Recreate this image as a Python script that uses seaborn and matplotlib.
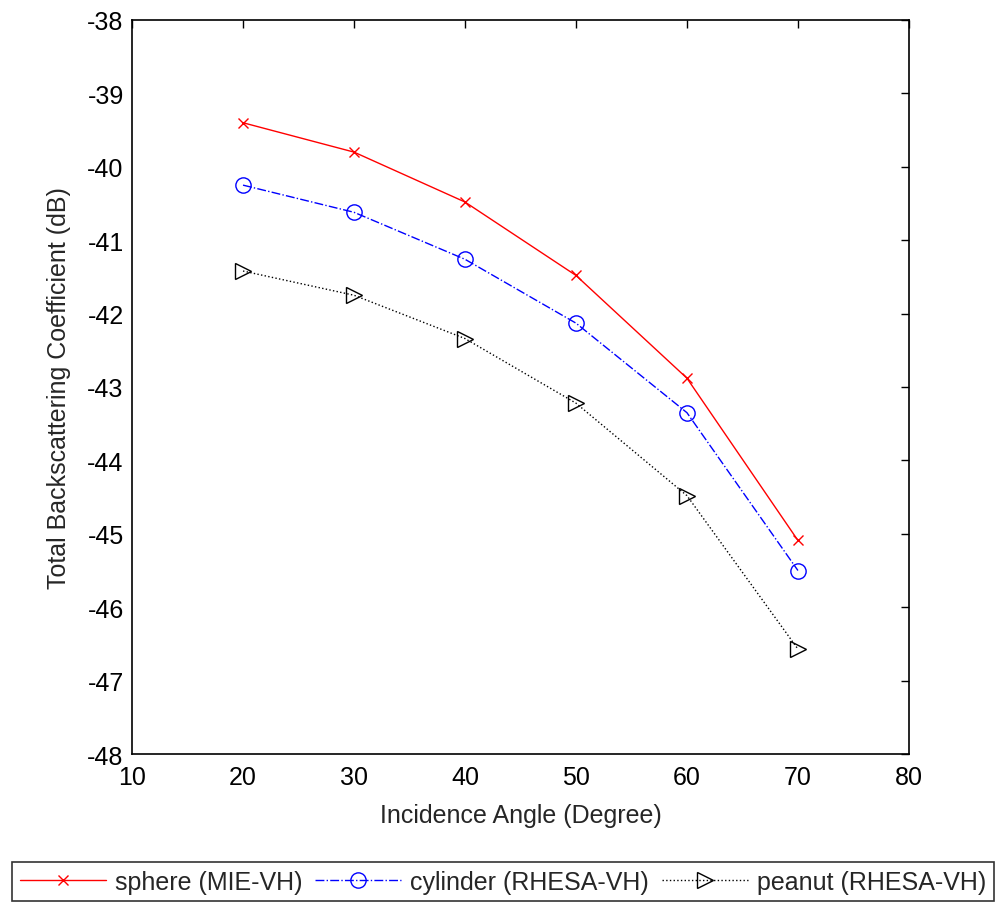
import matplotlib
matplotlib.use("Agg")
import matplotlib.pyplot as plt
import seaborn as sns
import pandas as pd

angles = [20, 30, 40, 50, 60, 70]
sphere = [-39.40, -39.80, -40.48, -41.48, -42.88, -45.09]
cylinder = [-40.25, -40.62, -41.26, -42.13, -43.35, -45.50]
peanut = [-41.42, -41.75, -42.34, -43.22, -44.48, -46.57]
labels = ["sphere (MIE-VH)", "cylinder (RHESA-VH)", "peanut (RHESA-VH)"]
xticks = [10, 20, 30, 40, 50, 60, 70, 80]
yticks = [-48, -47, -46, -45, -44, -43, -42, -41, -40, -39, -38]

sns.set_style("white")
plt.rcParams["font.family"] = ["Liberation Sans", "DejaVu Sans"]

fig = plt.figure(figsize=(10.01, 9.04), dpi=100)
ax = fig.add_axes([0.1319, 0.1648, 0.908 - 0.1319, 0.9768 - 0.1648])

styles = [
    dict(color="red", linestyle="-", marker="x", markersize=7, mfc="none"),
    dict(color="blue", linestyle="-.", marker="o", markersize=11, mfc="none"),
    dict(color="black", linestyle=":", marker=">", markersize=12, mfc="none"),
]
for vals, lab, st in zip([sphere, cylinder, peanut], labels, styles):
    df = pd.DataFrame({"x": angles, "y": vals})
    sns.lineplot(data=df, x="x", y="y", ax=ax, label=lab, color=st["color"],
                 linestyle=st["linestyle"], marker=st["marker"],
                 markersize=st["markersize"], markerfacecolor=st["mfc"],
                 markeredgecolor=st["color"], markeredgewidth=1.0, linewidth=1.0)

ax.set_xlim(10, 80)
ax.set_ylim(-48, -38)
ax.set_xticks(xticks)
ax.set_yticks(yticks)
ax.set_xticklabels([str(t) for t in xticks])
ax.set_yticklabels([str(t) for t in yticks])
ax.tick_params(direction="in", length=5.5, width=1, top=True, right=True,
               labelsize=18, colors="black")
ax.tick_params(axis="x", pad=8)
ax.tick_params(axis="y", pad=6)
for s in ax.spines.values():
    s.set_visible(True)
    s.set_color("black")
    s.set_linewidth(1.2)
ax.set_xlabel("Incidence Angle (Degree)", fontsize=18, labelpad=10)
ax.set_ylabel("Total Backscattering Coefficient (dB)", fontsize=18, labelpad=12)

handles, labs = ax.get_legend_handles_labels()
ax.get_legend().remove()
leg = fig.legend(handles, labs, loc="lower center", bbox_to_anchor=(0.5025, 0.002),
                 ncol=3, fontsize=18, frameon=True, fancybox=False,
                 edgecolor="black", handlelength=3.45, handletextpad=0.36,
                 columnspacing=0.5, borderpad=0.3, borderaxespad=0)
leg.get_frame().set_linewidth(1.2)

fig.savefig("out.png", dpi=100, facecolor="white")
